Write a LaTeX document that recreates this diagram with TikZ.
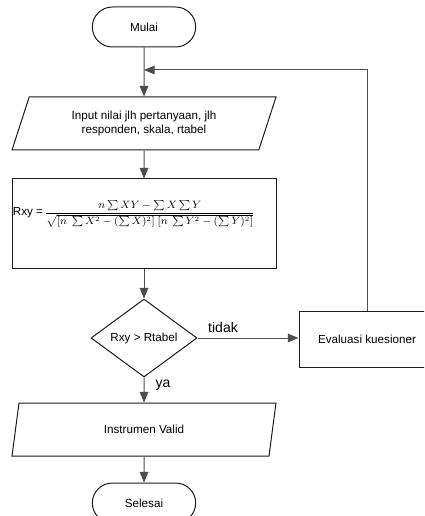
\documentclass[tikz,border=0pt]{standalone}
\usepackage{amsmath,amssymb}
\usepackage{fontspec}
\setmainfont{Liberation Sans}
\usepackage{tikz}
\usetikzlibrary{shapes.geometric,shapes.misc,arrows.meta}
\definecolor{garis}{HTML}{1A1A1A}
\definecolor{alurc}{HTML}{4D4D4D}
\tikzset{
  box/.style={draw=garis, line width=0.75pt, inner sep=1pt, font=\fontsize{8.75}{10.5}\selectfont, align=center},
  terminal/.style={box, rounded rectangle, minimum width=79.5pt, minimum height=30pt},
  io/.style={box, trapezium, trapezium left angle=58, trapezium right angle=122,
    trapezium stretches body, minimum width=198pt, minimum height=39.75pt},
  proses/.style={box, rectangle, minimum width=198pt, minimum height=66.75pt},
  keputusan/.style={box, diamond, minimum width=79.5pt, minimum height=58.5pt, inner sep=0pt},
  alur/.style={draw=alurc, line width=0.75pt, -{Triangle[length=8pt,width=6.5pt]}},
  lab/.style={font=\fontsize{10.5}{12}\selectfont},
}
\begin{document}
\begin{tikzpicture}[x=0.75pt, y=-0.75pt]
  \useasboundingbox (0,0) rectangle (424,516);
  \clip (0,0) rectangle (424,516);

  \node[terminal]  (mulai)    at (144,27)    {Mulai};
  \node[io]        (input)    at (144,123.5) {Input nilai jlh pertanyaan, jlh\\responden, skala, rtabel};
  \node[proses]    (hitung)   at (144,223.5) {};
  % rumus korelasi di bagian atas kotak
  \node[box, draw=none, anchor=west, font=\fontsize{7.6}{9}\selectfont] (rumus) at (11,214)
    {{\fontsize{8.75}{10.5}\selectfont Rxy =}\,$\displaystyle\frac{n\sum XY-\sum X\sum Y}{\sqrt{[n\ \sum X^2-(\sum X)^2]\ [n\ \sum Y^2-(\sum Y)^2]}}$};
  \node[keputusan] (cek)      at (144,338)   {Rxy > Rtabel};
  \node[proses, minimum width=102pt, minimum height=42pt] (evaluasi) at (367,339) {Evaluasi kuesioner};
  \node[io]        (valid)    at (144,429.5) {Instrumen Valid};
  \node[terminal]  (selesai)  at (144,503)   {Selesai};
  \coordinate (gabung) at (144,70);

  \draw[alur] (mulai) -- (input);
  \draw[alur] (input) -- (hitung);
  \draw[alur] (hitung) -- (cek);
  \draw[alur] (cek.east) -- (evaluasi.west |- cek.east);
  \draw[alur] (evaluasi.north) |- (gabung);
  \draw[alur] (cek) -- (valid);
  \draw[alur] (valid) -- (selesai);

  \node[lab] (tidak) at (223,327) {tidak};
  \node[lab] (ya)    at (163,385) {ya};
\end{tikzpicture}
\end{document}
